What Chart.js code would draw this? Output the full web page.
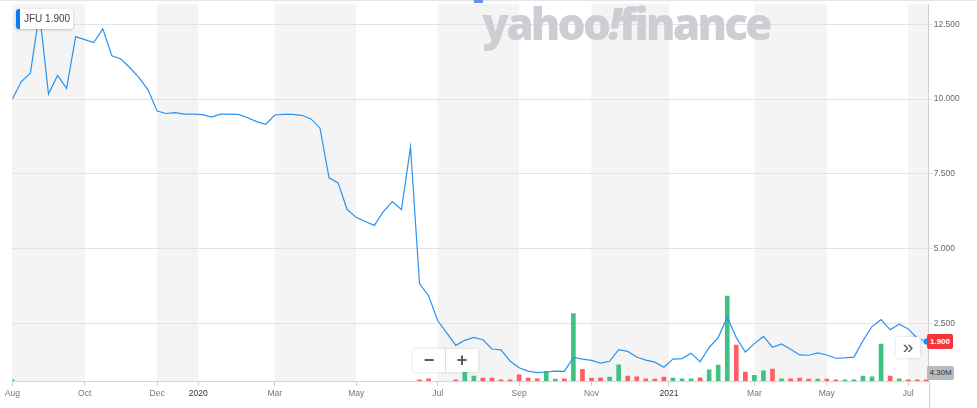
<!DOCTYPE html>
<html><head><meta charset="utf-8">
<script src="https://cdn.jsdelivr.net/npm/chart.js@4/dist/chart.umd.min.js"></script>
<style>
html,body{margin:0;padding:0;background:#fff;overflow:hidden}
#wrap{position:relative;width:977px;height:408px;font-family:"Liberation Sans",Arial,sans-serif}
#c{position:absolute;left:0;top:0}
.ov{position:absolute;pointer-events:none;box-sizing:border-box}
#wm{left:482px;top:-7px;font-family:"Open Sans",sans-serif;font-weight:800;font-size:44px;letter-spacing:-2.7px;color:#cdced3;white-space:nowrap}
#wm i{font-style:italic}
#legend{left:16px;top:9px;width:57px;height:20px;background:#fff;border-radius:3px;box-shadow:0 1px 3px rgba(0,0,0,0.22);border-left:4px solid #0a7cf0;font-size:10px;color:#444;line-height:20px;padding-left:4px;white-space:nowrap}
.btn{background:rgba(255,255,255,0.96);border-radius:3px;box-shadow:0 0 3px rgba(0,0,0,0.18);color:#5a5a5a;font-weight:bold;text-align:center}
#zoom{left:413px;top:349px;width:65px;height:23px;display:flex}
#zoom span{flex:1;font-size:18px;line-height:22px}
#zoom span:first-child{border-right:1px solid #ddd}
#more{left:896px;top:337px;width:24px;height:21px;font-size:19px;line-height:19px;font-weight:normal;color:#555}
#price{left:927px;top:334px;width:26px;height:15px;background:#f5333f;color:#fff;font-size:8px;font-weight:bold;line-height:15px;text-align:center;border-radius:2px}
#vol{left:927px;top:366px;width:27px;height:14px;background:#b7bac1;color:#333;font-size:8px;line-height:14px;text-align:center;border-radius:2px}
#dot{left:474px;top:0px;width:9px;height:3px;background:#6b8de6}
</style></head><body>
<div id="wrap">
<canvas id="c" width="977" height="408"></canvas>
<div class="ov" id="wm">yahoo<i>!</i>finance</div>
<div class="ov" id="dot"></div>
<div class="ov" id="legend"></div>
<div class="ov btn" id="zoom"><span>−</span><span>+</span></div>
<div class="ov btn" id="more">»</div>
<div class="ov" id="price"></div>
<div class="ov" id="vol"></div>
</div>
<script>
// ---- data ----
const ticker = 'JFU';
const lastPriceText = '1.900';
const lastVolumeText = '4.30M';
const closes = [10.00,10.59,10.87,12.90,10.17,10.79,10.36,12.09,11.99,11.89,
 12.35,11.45,11.34,11.05,10.72,10.31,9.60,9.52,9.55,9.50,
 9.50,9.48,9.40,9.50,9.50,9.49,9.38,9.25,9.16,9.47,
 9.49,9.49,9.46,9.34,9.03,7.37,7.20,6.31,6.05,5.91,
 5.78,6.24,6.58,6.31,8.39,3.83,3.43,2.60,2.19,1.77,
 1.94,2.04,1.96,1.65,1.62,1.25,1.02,0.91,0.86,0.88,
 0.91,0.90,1.37,1.31,1.27,1.18,1.24,1.63,1.57,1.38,
 1.28,1.21,1.04,1.31,1.33,1.51,1.22,1.70,2.03,2.71,
 2.03,1.55,1.83,2.07,1.71,1.82,1.64,1.45,1.44,1.52,
 1.45,1.34,1.35,1.38,1.93,2.40,2.63,2.29,2.48,2.32,
 2.01,1.90];
// weekly volume, millions (null = no visible bar)
const volumes = [4.3,null,null,null,null,null,null,null,null,null,
 null,null,null,null,null,null,null,null,null,null,
 null,null,null,null,null,null,null,null,null,null,
 null,null,null,null,null,null,null,null,null,null,
 null,null,null,null,null,4.3,7.6,null,null,4.3,
 35,16.5,10,10,4.3,4.3,21,10,7.6,32,
 6.6,7.6,225,38.6,10,11,13,54,16.5,14,
 7.6,6.6,13,10,7.6,7,11,37,53,284,
 120,30,19,34,40,7.6,7.6,10,6.6,6.6,
 6.6,4.3,4.3,4.3,16.5,14,123,16.5,7.6,4.3,
 4.3,4.3];
const weeks = closes.map((_, i) => i);
const monthTickPos = [0, 8, 16, 20.55, 29, 38, 47, 56, 64, 72.56, 82, 90, 99];
const monthTickLabels = ['Aug','Oct','Dec','2020','Mar','May','Jul','Sep','Nov','2021','Mar','May','Jul'];
const priceTicks = [2.5, 5, 7.5, 10, 12.5];
const xMax = 101.26;
const yMin = 0.58, yMax = 13.18;
const volMax = 1260;

document.getElementById('legend').textContent = ticker + ' ' + lastPriceText;
document.getElementById('price').textContent = lastPriceText;
document.getElementById('vol').textContent = lastVolumeText;

const FONT = '"Liberation Sans", Arial, sans-serif';
const GREEN = '#41c283', RED = '#ff5e63';

const bandsPlugin = {
  id: 'bands',
  beforeDraw(chart) {
    const {ctx, chartArea: a, scales: {x}} = chart;
    const edges = monthTickPos.concat([x.max]);
    ctx.save();
    ctx.fillStyle = '#f4f4f4';
    for (let i = 0; i < edges.length - 1; i += 2) {
      const x0 = x.getPixelForValue(edges[i]), x1 = x.getPixelForValue(edges[i + 1]);
      ctx.fillRect(x0, a.top, x1 - x0, a.bottom - a.top);
    }
    ctx.fillStyle = '#e2e5ea';
    ctx.fillRect(0, 0, chart.width, 1);
    ctx.restore();
  },
  afterDraw(chart) {
    const {ctx, chartArea: a} = chart;
    ctx.save();
    ctx.strokeStyle = '#cfcfcf';
    ctx.lineWidth = 1;
    ctx.beginPath();
    ctx.moveTo(Math.round(a.right) + 0.5, a.bottom);
    ctx.lineTo(Math.round(a.right) + 0.5, chart.height);
    ctx.stroke();
    ctx.restore();
  }
};

new Chart(document.getElementById('c'), {
  type: 'line',
  data: {
    datasets: [
      {
        type: 'line',
        data: weeks.map((w, i) => ({x: w, y: closes[i]})),
        xAxisID: 'x', yAxisID: 'y',
        borderColor: '#2a92ef', borderWidth: 1.2, tension: 0,
        pointRadius: c => c.dataIndex === closes.length - 1 ? 3 : 0,
        pointBackgroundColor: '#1f8bf0', pointBorderWidth: 0,
        segment: { borderDash: c => c.p1DataIndex === closes.length - 1 ? [2, 2] : undefined },
        order: 1
      },
      {
        type: 'bar',
        data: weeks.map((w, i) => ({x: w, y: volumes[i]})),
        xAxisID: 'x', yAxisID: 'v',
        backgroundColor: c => { const i = c.dataIndex; return (i === 0 || closes[i] >= closes[i - 1]) ? GREEN : RED; },
        barThickness: 4, borderWidth: 0,
        order: 2
      }
    ]
  },
  options: {
    responsive: false, animation: false, devicePixelRatio: 1,
    layout: { padding: { left: 12.3, right: 0, top: 0, bottom: 0 } },
    plugins: { legend: { display: false }, tooltip: { enabled: false } },
    scales: {
      x: {
        type: 'linear', min: 0, max: xMax, bounds: 'data', position: 'bottom', offset: false,
        afterBuildTicks: s => { s.ticks = monthTickPos.map(v => ({value: v})); },
        afterFit: s => { s.height = 27; s.paddingLeft = 0; s.paddingRight = 0; },
        grid: { offset: false, drawOnChartArea: false, drawTicks: true, tickLength: 5, color: '#cfcfcf' },
        border: { color: '#d6d6d6' },
        ticks: {
          autoSkip: false, maxRotation: 0, padding: 3,
          font: { family: FONT, size: 8.5 },
          color: c => /^\d{4}$/.test(monthTickLabels[c.index]) ? '#333' : '#777',
          callback: (v, i) => monthTickLabels[i]
        }
      },
      y: {
        position: 'right', min: yMin, max: yMax, bounds: 'data',
        afterBuildTicks: s => { s.ticks = priceTicks.map(v => ({value: v})); },
        afterFit: s => { s.width = 977 - 928.7; s.paddingTop = 0; s.paddingBottom = 0; },
        grid: { color: '#e3e3e3', tickLength: 4, drawTicks: true },
        border: { color: '#cfcfcf' },
        ticks: { padding: 1, font: { family: FONT, size: 8.5 }, color: '#666', callback: v => v.toFixed(3) }
      },
      v: { display: false, min: 0, max: volMax, position: 'right' }
    }
  },
  plugins: [bandsPlugin]
});
</script>
</body></html>
